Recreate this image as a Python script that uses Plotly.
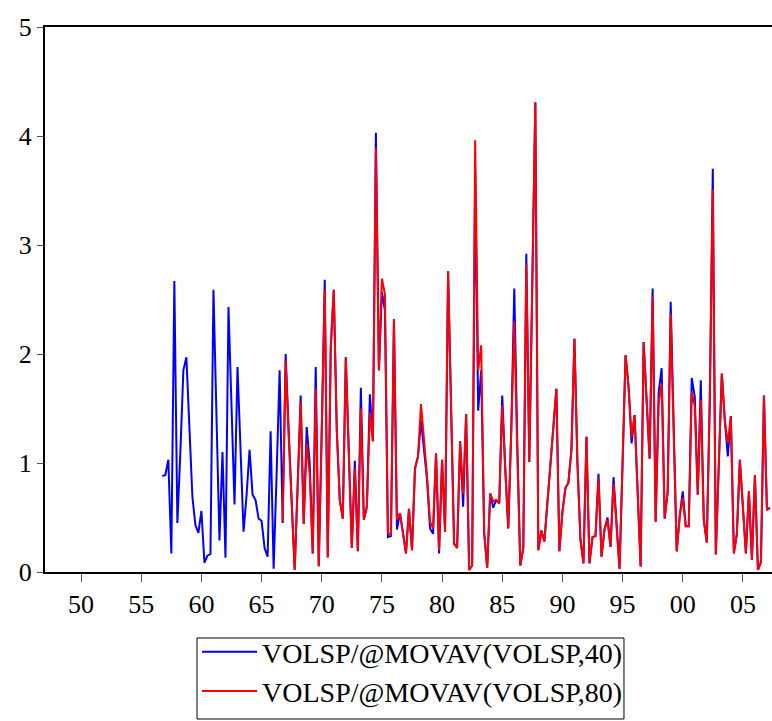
import pandas as pd
import plotly.graph_objects as go

# Quarterly observations (EViews-style), 1956Q4 .. 2007Q2
start_40 = "1956Q4"
start_80 = "1966Q4"
end_q = "2007Q2"

ma40 = [
    0.88, 0.89, 1.03, 0.17, 2.67, 0.45, 1.10, 1.85, 1.97, 1.30,
    0.69, 0.43, 0.36, 0.56, 0.085, 0.15, 0.165, 2.59, 1.40, 0.29,
    1.10, 0.13, 2.43, 1.50, 0.62, 1.88, 1.10, 0.37, 0.70, 1.12,
    0.71, 0.66, 0.49, 0.47, 0.22, 0.14, 1.29, 0.03, 0.90, 1.85,
    0.45, 2.00, 1.30, 0.70, 0.02, 0.80, 1.62, 0.44, 1.33, 1.00,
    0.17, 1.88, 0.055, 1.30, 2.68, 0.14, 2.07, 2.59, 1.30, 0.66,
    0.49, 1.97, 1.10, 0.22, 1.02, 0.19, 1.69, 0.48, 0.60, 1.63,
    1.20, 4.03, 1.85, 2.57, 2.40, 0.32, 0.33, 2.30, 0.39, 0.54,
    0.36, 0.17, 0.58, 0.20, 0.95, 1.06, 1.39, 1.12, 0.85, 0.40,
    0.35, 1.09, 0.17, 1.03, 0.37, 2.76, 1.40, 0.26, 0.22, 1.20,
    0.60, 1.45, 0.02, 0.06, 3.66, 1.48, 1.85, 0.36, 0.04, 0.72,
    0.59, 0.66, 0.63, 1.62, 0.95, 0.40, 1.30, 2.60, 1.20, 0.06,
    0.22, 2.92, 1.01, 2.60, 4.31, 0.20, 0.38, 0.28, 0.65, 1.00,
    1.40, 1.68, 0.19, 0.55, 0.77, 0.82, 1.12, 2.14, 1.00, 0.30,
    0.08, 1.24, 0.08, 0.32, 0.33, 0.90, 0.14, 0.39, 0.50, 0.23,
    0.87, 0.45, 0.03, 1.00, 1.99, 1.70, 1.18, 1.44, 0.70, 0.05,
    2.11, 1.60, 1.04, 2.60, 0.46, 1.65, 1.87, 0.49, 0.74, 2.48,
    1.20, 0.19, 0.51, 0.74, 0.42, 0.42, 1.78, 1.61, 0.71, 1.76,
    0.48, 0.27, 1.60, 3.70, 0.16, 0.90, 1.82, 1.39, 1.06, 1.43,
    0.17, 0.35, 1.03, 0.60, 0.17, 0.74, 0.11, 0.89, 0.02, 0.09,
    1.62, 0.57, 0.59,
]

ma80 = [
    0.46, 1.94, 1.25, 0.65, 0.02, 0.80, 1.56, 0.44, 1.18, 0.90,
    0.17, 1.68, 0.05, 1.30, 2.59, 0.13, 2.05, 2.59, 1.30, 0.66,
    0.49, 1.97, 1.10, 0.22, 0.95, 0.19, 1.50, 0.48, 0.60, 1.46,
    1.20, 3.89, 1.85, 2.69, 2.55, 0.36, 0.34, 2.32, 0.48, 0.54,
    0.36, 0.17, 0.58, 0.20, 0.95, 1.06, 1.54, 1.22, 0.88, 0.46,
    0.40, 1.09, 0.20, 1.03, 0.37, 2.76, 1.40, 0.26, 0.22, 1.20,
    0.72, 1.45, 0.02, 0.06, 3.96, 1.85, 2.08, 0.36, 0.04, 0.72,
    0.65, 0.66, 0.63, 1.53, 0.95, 0.40, 1.30, 2.30, 1.10, 0.06,
    0.22, 2.83, 1.01, 2.60, 4.31, 0.20, 0.38, 0.28, 0.65, 1.00,
    1.40, 1.68, 0.19, 0.55, 0.77, 0.82, 1.12, 2.14, 1.00, 0.30,
    0.08, 1.24, 0.08, 0.32, 0.33, 0.86, 0.14, 0.39, 0.48, 0.23,
    0.81, 0.45, 0.03, 1.00, 1.99, 1.70, 1.24, 1.44, 0.70, 0.05,
    2.11, 1.60, 1.04, 2.53, 0.46, 1.55, 1.73, 0.49, 0.74, 2.37,
    1.20, 0.19, 0.51, 0.68, 0.42, 0.42, 1.65, 1.52, 0.71, 1.58,
    0.48, 0.27, 1.55, 3.51, 0.16, 0.90, 1.82, 1.39, 1.18, 1.43,
    0.17, 0.35, 1.03, 0.60, 0.17, 0.74, 0.11, 0.89, 0.02, 0.09,
    1.62, 0.57, 0.59,
]

tick_years = [1950, 1955, 1960, 1965, 1970, 1975, 1980, 1985, 1990, 1995, 2000, 2005]
tick_labels = ["50", "55", "60", "65", "70", "75", "80", "85", "90", "95", "00", "05"]
y_ticks = [0, 1, 2, 3, 4, 5]

names = ["VOLSP/@MOVAV(VOLSP,40)", "VOLSP/@MOVAV(VOLSP,80)"]


def quarter_axis(start, end):
    per = pd.period_range(start, end, freq="Q")
    return [p.year + (p.quarter - 1) / 4 for p in per]


x40 = quarter_axis(start_40, end_q)
x80 = quarter_axis(start_80, end_q)

font_family = "Liberation Serif"

fig = go.Figure()
fig.add_trace(go.Scatter(x=x40, y=ma40, mode="lines", name=names[0],
                         line=dict(color="#0000FF", width=2)))
fig.add_trace(go.Scatter(x=x80, y=ma80, mode="lines", name=names[1],
                         line=dict(color="#FF0000", width=2)))

# legend frame (drawn as a paper-referenced rectangle)
fig.add_shape(type="rect", xref="paper", yref="paper",
              x0=0.2091, x1=0.7964, y0=-0.1211, y1=-0.2697,
              line=dict(color="black", width=1), fillcolor="white",
              layer="below")

fig.update_layout(
    width=772, height=721,
    margin=dict(l=45, r=0, t=27, b=149, autoexpand=False),
    paper_bgcolor="white", plot_bgcolor="white",
    font=dict(family=font_family, size=26, color="black"),
    showlegend=True,
    legend=dict(
        x=0.2091, xanchor="left", y=-0.1009, yanchor="top",
        borderwidth=0, bgcolor="rgba(0,0,0,0)",
        font=dict(family=font_family, size=28, color="black"),
        tracegroupgap=0, itemwidth=55,
    ),
)
fig.update_xaxes(
    range=[1947.0, 2007.42], showgrid=False, zeroline=False,
    showline=True, linecolor="black", linewidth=2, mirror=True,
    tickmode="array", tickvals=tick_years, ticktext=tick_labels,
    ticks="outside", ticklen=8, tickwidth=1, tickcolor="#555555",
    tickfont=dict(family=font_family, size=26),
)
fig.update_yaxes(
    range=[0, 5], showgrid=False, zeroline=False,
    showline=True, linecolor="black", linewidth=2, mirror=False,
    tickmode="array", tickvals=y_ticks,
    ticks="outside", ticklen=6, tickwidth=1, tickcolor="#555555",
    tickfont=dict(family=font_family, size=26),
)

fig.write_html(
    "out.html",
    config={"displayModeBar": False},
    post_script="document.body.style.margin='0';document.body.style.overflow='hidden';",
)
